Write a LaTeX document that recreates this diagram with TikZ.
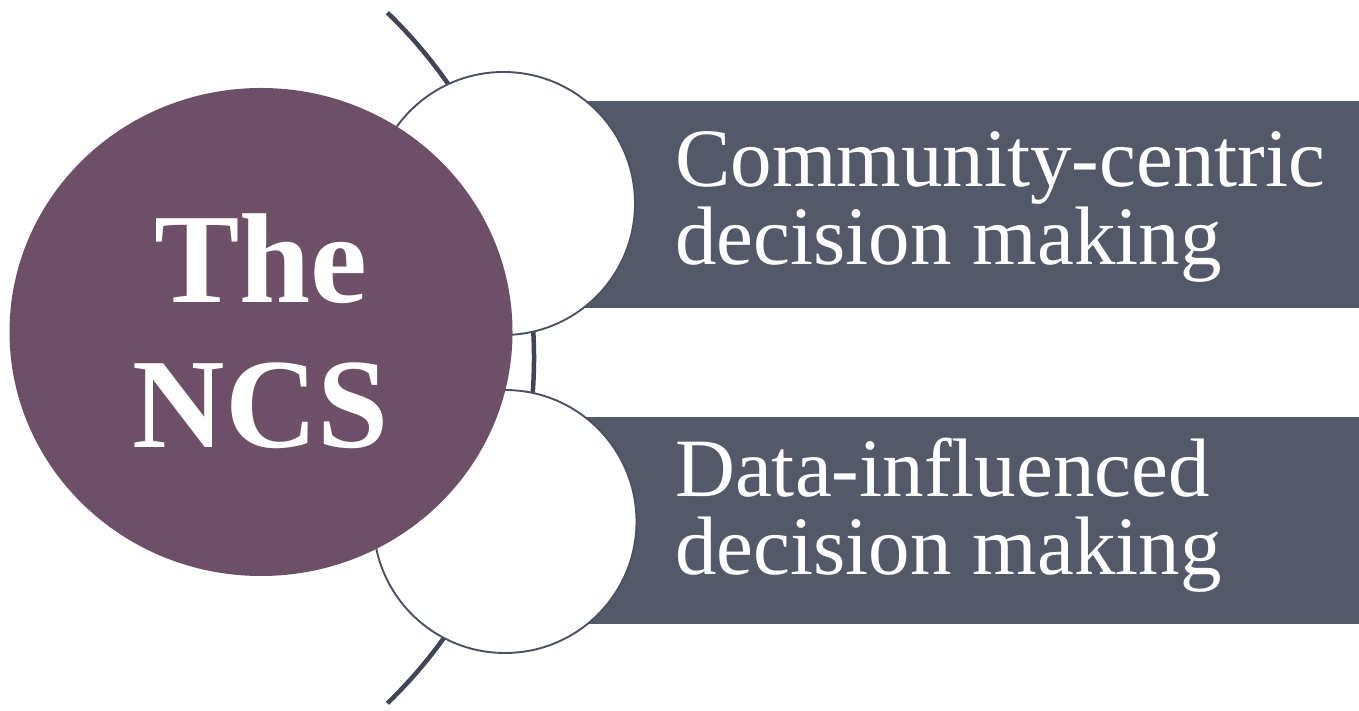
\documentclass[tikz,border=0pt]{standalone}
\usepackage{fontspec}
\setmainfont{Liberation Serif}
\usetikzlibrary{shapes.geometric}
\definecolor{hubpurple}{HTML}{6D4F68}
\definecolor{bandgray}{HTML}{545969}
\definecolor{arcgray}{HTML}{3F4554}
\definecolor{ringgray}{HTML}{4B5162}
\begin{document}
\begin{tikzpicture}[x=1pt,y=1pt,
  arcline/.style={draw=arcgray,line width=4.5pt},
  band/.style={rectangle,fill=bandgray,draw=none,inner sep=0pt,outer sep=0pt,minimum width=839pt,minimum height=207pt},
  ring/.style={circle,fill=white,draw=ringgray,line width=1.9pt,inner sep=0pt,minimum size=263pt},
  hub/.style={ellipse,fill=hubpurple,draw=none,inner sep=0pt,minimum width=503pt,minimum height=488pt},
  lbl/.style={text=white,inner sep=0pt,anchor=base west,align=left,font=\fontsize{83}{78}\selectfont},
  hubtxt/.style={text=white,inner sep=0pt,anchor=base,align=center,font=\fontsize{128}{145}\selectfont\bfseries}]
\useasboundingbox (0,0) rectangle (1359,711);
\coordinate (arcc) at (54,353);
\draw[arcline] (arcc) ++(-46:480pt) arc[start angle=-46,end angle=46,radius=480pt];
\node[band] (b1) at (939.5,506.5) {};
\node[band] (b2) at (939.5,190.5) {};
\node[ring] (c1) at (503.5,507.5) {};
\node[ring] (c2) at (505,189.5) {};
\node[hub] (hub) at (261,379) {};
\node[hubtxt] (ht) at (261,263) {The\\NCS};
\node[lbl] (l1) at (675,446) {Community-centric\\decision making};
\node[lbl] (l2) at (675,136) {Data-influenced\\decision making};
\end{tikzpicture}
\end{document}
